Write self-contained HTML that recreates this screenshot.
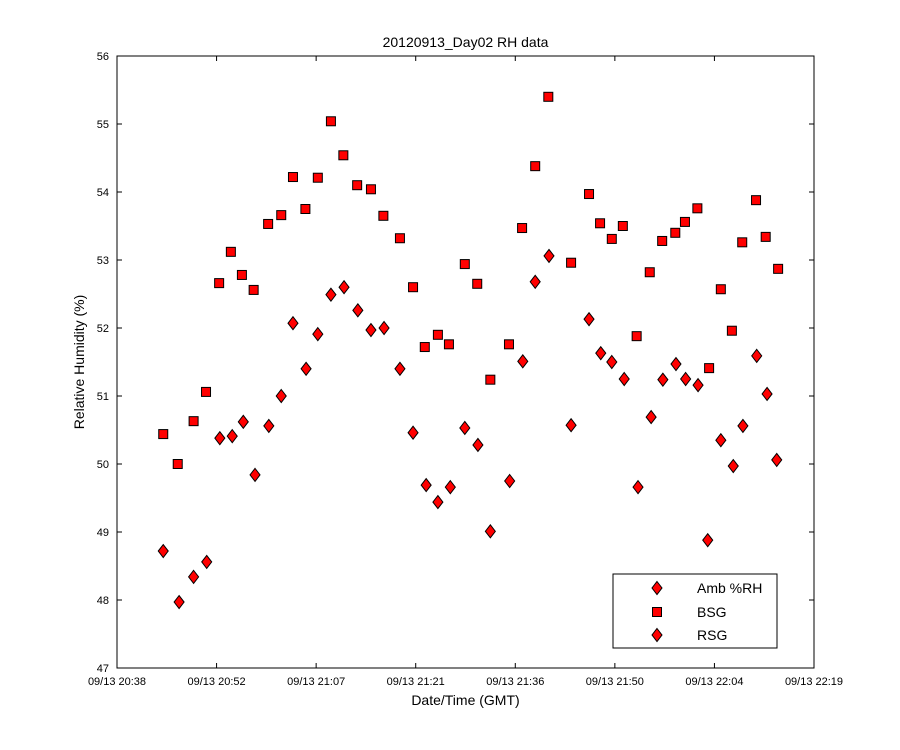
<!DOCTYPE html>
<html><head><meta charset="utf-8"><style>
html,body{margin:0;padding:0;background:#fff;}
svg{display:block;font-family:"Liberation Sans",Arial,sans-serif;}
</style></head><body>
<svg id="chart" width="900" height="750" viewBox="0 0 900 750" xmlns="http://www.w3.org/2000/svg">
<rect x="0" y="0" width="900" height="750" fill="#fff"/>
<g id="axes"></g>
<g id="marks"></g>
<g id="legend"></g>
</svg>
<script>
const xTickLabels = ["09/13 20:38","09/13 20:52","09/13 21:07","09/13 21:21","09/13 21:36","09/13 21:50","09/13 22:04","09/13 22:19"];
const yTickLabels = [47,48,49,50,51,52,53,54,55,56];
const bsgTimes = [6.7,8.8,11.1,12.9,14.8,16.5,18.1,19.8,21.9,23.8,25.5,27.3,29.1,31.0,32.8,34.8,36.8,38.6,41.0,42.9,44.6,46.5,48.1,50.4,52.2,54.1,56.8,58.7,60.6,62.5,65.8,68.4,70.0,71.7,73.3,75.3,77.2,79.0,80.9,82.3,84.1,85.8,87.5,89.1,90.6,92.6,94.0,95.8];
const bsgValues = [50.44,50.0,50.63,51.06,52.66,53.12,52.78,52.56,53.53,53.66,54.22,53.75,54.21,55.04,54.54,54.10,54.04,53.65,53.32,52.60,51.72,51.90,51.76,52.94,52.65,51.24,51.76,53.47,54.38,55.40,52.96,53.97,53.54,53.31,53.50,51.88,52.82,53.28,53.40,53.56,53.76,51.41,52.57,51.96,53.26,53.88,53.34,52.87];
const rsgTimes = [6.7,9.0,11.1,13.0,14.9,16.7,18.3,20.0,22.0,23.8,25.5,27.4,29.1,31.0,32.9,34.9,36.8,38.7,41.0,42.9,44.8,46.5,48.3,50.4,52.3,54.1,56.9,58.8,60.6,62.6,65.8,68.4,70.1,71.7,73.5,75.5,77.4,79.1,81.0,82.4,84.2,85.6,87.5,89.3,90.7,92.7,94.2,95.6];
const rsgValues = [48.72,47.97,48.34,48.56,50.38,50.41,50.62,49.84,50.56,51.0,52.07,51.40,51.91,52.49,52.60,52.26,51.97,52.0,51.40,50.46,49.69,49.44,49.66,50.53,50.28,49.01,49.75,51.51,52.68,53.06,50.57,52.13,51.63,51.50,51.25,49.66,50.69,51.24,51.47,51.25,51.16,48.88,50.35,49.97,50.56,51.59,51.03,50.06];

const NS="http://www.w3.org/2000/svg";
const L=117,R=814,T=56,B=668;
const X0=0,X1=101,Y0=47,Y1=56;
function xs(v){return L+(v-X0)/(X1-X0)*(R-L);}
function ys(v){return B-(v-Y0)/(Y1-Y0)*(B-T);}
function mk(tag,attrs,parent){const e=document.createElementNS(NS,tag);for(const k in attrs)e.setAttribute(k,attrs[k]);parent.appendChild(e);return e;}
const axes=document.getElementById('axes'),marks=document.getElementById('marks'),legend=document.getElementById('legend');

const frame=mk('rect',{x:L,y:T,width:R-L,height:B-T,fill:'#fff',stroke:'#000','stroke-width':1},axes);



yTickLabels.forEach(v=>{
  const y=ys(v);
  mk('line',{x1:L,x2:L+5,y1:y,y2:y,stroke:'#000'},axes);
  mk('line',{x1:R,x2:R-5,y1:y,y2:y,stroke:'#000'},axes);
  const t=mk('text',{x:L-8,y:y+4,'text-anchor':'end','font-size':11},axes);
  t.textContent=v;
  
  
});
xTickLabels.forEach((lab,i)=>{
  const x=L+i*(R-L)/(xTickLabels.length-1);
  mk('line',{x1:x,x2:x,y1:B,y2:B-5,stroke:'#000'},axes);
  mk('line',{x1:x,x2:x,y1:T,y2:T+5,stroke:'#000'},axes);
  const t=mk('text',{x:x,y:B+17,'text-anchor':'middle','font-size':11},axes);
  t.textContent=lab;
  
  
});
const title=mk('text',{x:(L+R)/2,y:47,'text-anchor':'middle','font-size':14},axes);
title.textContent='20120913_Day02 RH data';


const xt=mk('text',{x:(L+R)/2,y:705,'text-anchor':'middle','font-size':14},axes);
xt.textContent='Date/Time (GMT)';


const yt=mk('text',{x:0,y:0,'text-anchor':'middle','font-size':14,transform:'translate(84,362) rotate(-90)'},axes);
yt.textContent='Relative Humidity (%)';



function square(x,y,p){return mk('rect',{x:x-4.5,y:y-4.5,width:9,height:9,fill:'#f00',stroke:'#000','stroke-width':1},p);}
function diamond(x,y,p){return mk('polygon',{points:`${x},${y-6.5} ${x+5},${y} ${x},${y+6.5} ${x-5},${y}`,fill:'#f00',stroke:'#000','stroke-width':1},p);}

bsgValues.forEach((v,i)=>{
  const s=square(xs(bsgTimes[i]),ys(v),marks);
  
  
});
rsgValues.forEach((v,i)=>{
  const d=diamond(xs(rsgTimes[i]),ys(v),marks);
  
  
});

const lb=mk('rect',{x:613,y:574,width:164,height:74,fill:'#fff',stroke:'#000'},legend);


const entries=[['Amb %RH','d',588],['BSG','s',612],['RSG','d',635]];
entries.forEach(e=>{
  const m=e[1]==='s'?square(657,e[2],legend):diamond(657,e[2],legend);
  
  
  const t=mk('text',{x:697,y:e[2]+5,'font-size':14},legend);
  t.textContent=e[0];
  
  
});
</script>
</body></html>
